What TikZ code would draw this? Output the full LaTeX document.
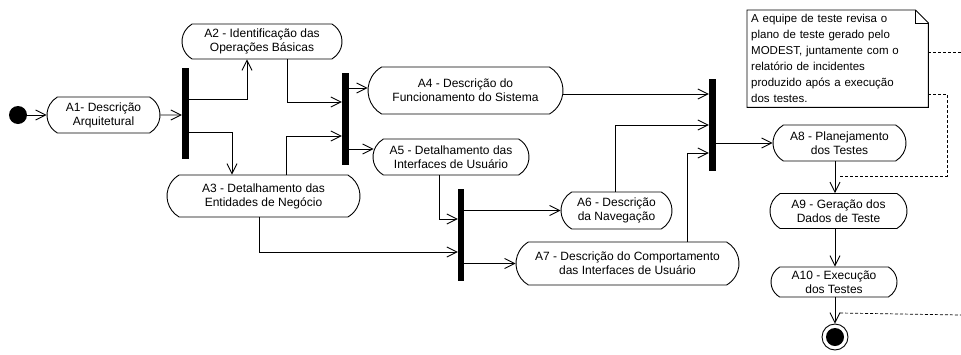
\documentclass[tikz,border=0pt]{standalone}
\usepackage{fontspec}
\setmainfont{Liberation Sans}
\usetikzlibrary{arrows.meta,shapes.misc,calc}

\begin{document}
\begin{tikzpicture}[x=1pt,y=-1pt,
  act/.style={draw, line width=0.9pt, rounded rectangle, rounded rectangle arc length=120,
    align=center, inner sep=1pt, font=\fontsize{12}{14}\selectfont},
  bar/.style={fill=black, draw=none, inner sep=0pt, minimum width=7pt},
  flow/.style={line width=0.9pt, -{Straight Barb[length=10pt,width=10pt,line width=0.9pt]}},
  link/.style={line width=0.7pt, dash pattern=on 3pt off 2pt}]
\useasboundingbox (0,0) rectangle (961,354);

% initial and final states
\node[circle, fill=black, minimum size=18pt, inner sep=0pt] (start) at (18,115) {};
\node[circle, draw, line width=0.9pt, minimum size=26pt, inner sep=0pt] (end) at (835,337) {};
\node[circle, fill=black, minimum size=18pt, inner sep=0pt] (endin) at (end) {};

% activities
\node[act, minimum width=115pt, minimum height=36pt] (A1) at (103.5,115) {A1- Descrição\\Arquitetural};
\node[act, minimum width=162pt, minimum height=35pt] (A2) at (262,41.5) {A2 - Identificação das\\Operações Básicas};
\node[act, minimum width=195pt, minimum height=42pt] (A3) at (263.5,196) {A3 - Detalhamento das\\Entidades de Negócio};
\node[act, minimum width=197pt, minimum height=47pt] (A4) at (465.5,90.5) {A4 - Descrição do\\Funcionamento do Sistema};
\node[act, minimum width=158pt, minimum height=36pt] (A5) at (451,157) {A5 - Detalhamento das\\Interfaces de Usuário};
\node[act, minimum width=113pt, minimum height=37pt] (A6) at (616.5,210.5) {A6 - Descrição\\da Navegação};
\node[act, minimum width=225pt, minimum height=43pt] (A7) at (627.5,263.5) {A7 - Descrição do Comportamento\\das Interfaces de Usuário};
\node[act, minimum width=135pt, minimum height=36pt] (A8) at (839.5,143) {A8 - Planejamento\\dos Testes};
\node[act, minimum width=139pt, minimum height=35pt] (A9) at (838.5,211) {A9 - Geração dos\\Dados de Teste};
\node[act, minimum width=128pt, minimum height=30pt] (A10) at (834,282) {A10 - Execução\\dos Testes};

% fork / join bars
\node[bar, minimum height=91pt] (bar1) at (185.5,113.5) {};
\node[bar, minimum height=92pt] (bar2) at (345.5,119) {};
\node[bar, minimum height=92pt, minimum width=6pt] (bar3) at (461,235) {};
\node[bar, minimum height=92pt] (bar4) at (712.5,125) {};

% note
\node[anchor=north west, align=left, text width=173pt, inner xsep=4pt, inner ysep=2pt,
  minimum width=181pt, minimum height=97pt,
  font=\fontsize{11.5}{16}\selectfont] (note) at (747,10)
  {A equipe de teste revisa o\\plano de teste gerado pelo\\MODEST, juntamente com o\\relatório de incidentes\\produzido após a execução\\dos testes.};
\draw[line width=0.9pt] (note.north west) -- ([xshift=-13pt]note.north east)
  -- ([yshift=-13pt]note.north east) -- (note.south east) -- (note.south west) -- cycle;
\draw[line width=0.9pt] ([xshift=-13pt]note.north east) |- ([yshift=-13pt]note.north east);

% control flow
\draw[flow] (start) -- (A1);
\draw[flow] (A1) -- (A1 -| bar1.west);
\draw[flow] (bar1.east |- 0,99) -| (A2.south -| 247,0);
\draw[flow] (bar1.east |- 0,132) -| (A3.north -| 232,0);
\draw[flow] (A2.south -| 287,0) |- (bar2.west |- 0,102);
\draw[flow] (A3.north -| 286,0) |- (bar2.west |- 0,136);
\draw[flow] (bar2.east |- 0,88) -- (A4.west |- 0,88);
\draw[flow] (bar2.east |- 0,149) -- ([xshift=1pt]A5.west |- 0,149);
\draw[flow] (A5.south -| 439,0) |- (bar3.west |- 0,219);
\draw[flow] (A3.south -| 259,0) |- (bar3.west |- 0,252);
\draw[flow] (bar3.east |- A6.west) -- (A6.west);
\draw[flow] (bar3.east |- A7.west) -- (A7.west);
\draw[flow] (A4.east |- 0,94) -- (bar4.west |- 0,94);
\draw[flow] (A6.north -| 615,0) |- (bar4.west |- 0,125);
\draw[flow] (A7.north -| 687,0) |- (bar4.west |- 0,153);
\draw[flow] (bar4.east |- A8.west) -- (A8.west);
\draw[flow] (A8.south -| 835,0) -- (A9.north -| 835,0);
\draw[flow] (A9.south -| 835,0) -- (A10.north -| 835,0);
\draw[flow] (A10.south -| 835,0) -- (end);

% note attachments
\coordinate (n1) at (961,52);
\coordinate (n2) at (947,176);
\coordinate (n3) at (840,176);
\coordinate (n4) at (840,313);
\coordinate (n5) at (961,315);
\draw[link] (note.east |- 0,52) -- (n1);
\draw[link] (note.east |- 0,94) -| (n2) -- (n3);
\draw[link] (n4) -- (n5);
\end{tikzpicture}
\end{document}
